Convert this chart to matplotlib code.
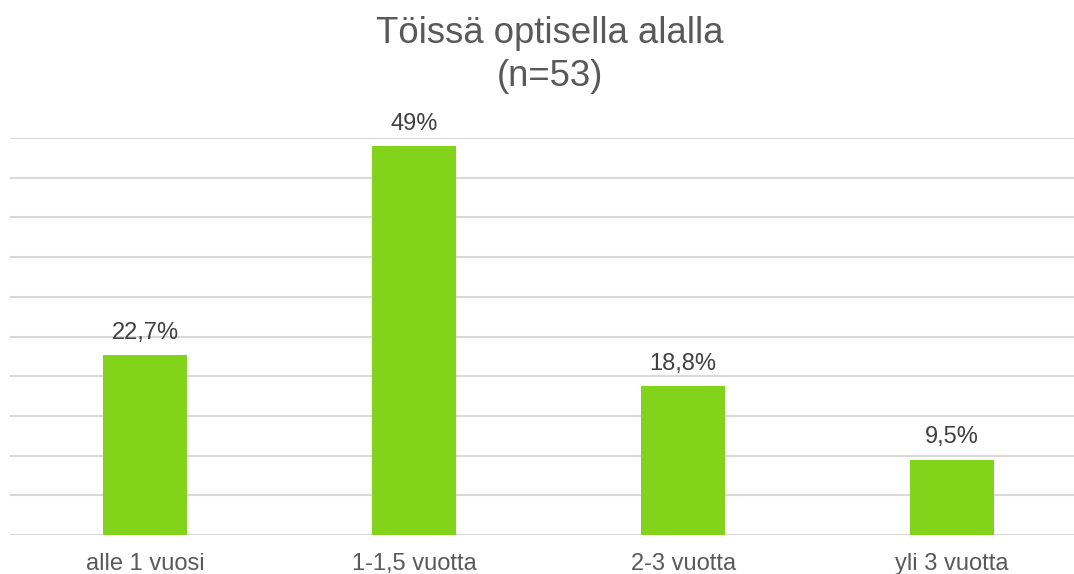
import matplotlib.pyplot as plt
import numpy as np

plt.rcParams['font.family'] = ['Liberation Sans', 'DejaVu Sans']

categories = ["alle 1 vuosi", "1-1,5 vuotta", "2-3 vuotta", "yli 3 vuotta"]
values = [22.7, 49.0, 18.8, 9.5]
value_labels = ["22,7%", "49%", "18,8%", "9,5%"]

fig = plt.figure(figsize=(10.74, 5.74), dpi=100)
ax = fig.add_axes([10/1074, 39/574, 1 - 10/1074, 397/574])

x = np.arange(len(categories))
bars = ax.bar(x, values, width=0.31, color='#81D41A', zorder=3)

for b, lab in zip(bars, value_labels):
    ax.annotate(lab, (b.get_x() + b.get_width()/2, b.get_height()),
                xytext=(0, 8), textcoords='offset points',
                ha='center', va='bottom', fontsize=17, color='#404040')

ax.set_xlim(-0.502, 3.453)
ax.set_ylim(0, 50)
ax.set_yticks(np.arange(0, 51, 5))
ax.yaxis.grid(True, color='#D9D9D9', linewidth=1.5, zorder=0)
ax.set_yticklabels([])
ax.tick_params(axis='y', length=0)
ax.set_xticks(x)
ax.set_xticklabels(categories, fontsize=17, color='#595959')
ax.tick_params(axis='x', length=0, pad=13)
for s in ax.spines.values():
    s.set_visible(False)

# title, two lines
fig.text(550/1074, 1 - 43/574, "Töissä optisella alalla", ha='center', va='baseline',
         fontsize=26.3, color='#595959')
fig.text(550/1074, 1 - 86/574, "(n=53)", ha='center', va='baseline',
         fontsize=26.3, color='#595959')

fig.savefig("out.png", dpi=100)
